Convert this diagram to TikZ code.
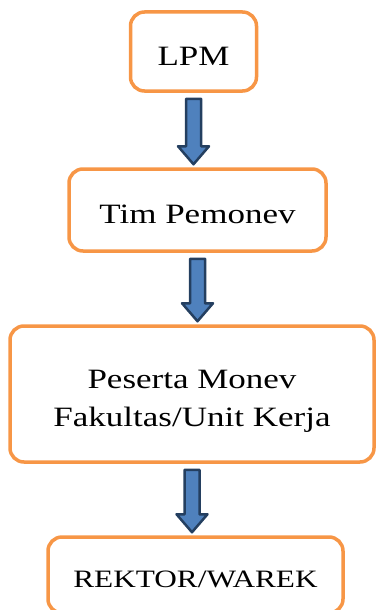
\documentclass[tikz,border=0pt]{standalone}
\usepackage{fontspec}
\setmainfont[FakeStretch=1.25]{Liberation Serif}
\usetikzlibrary{calc}
\definecolor{boxorange}{HTML}{F79646}
\definecolor{arrowfill}{HTML}{4F81BD}
\definecolor{arrowline}{HTML}{243F60}
\newcommand{\lowered}[2]{\raisebox{-#1}[\height][\depth]{#2}}
\tikzset{
  box/.style={draw=boxorange, line width=3.5pt, rounded corners=14pt, fill=white,
    align=center, inner sep=0pt, font=\fontsize{28}{38}\selectfont},
  blockarrow/.style={draw=arrowline, fill=arrowfill, line width=2.5pt, line join=round}
}
\newcommand{\blockarr}[2]{%
  \path let \p1=($(#1.south)+(0,6)$), \p2=($(#2.north)+(0,-3)$) in
    [blockarrow] (\x1-7.5pt,\y1) -- (\x1+7.5pt,\y1) -- (\x1+7.5pt,\y2+18pt)
    -- (\x1+15.5pt,\y2+18pt) -- (\x1,\y2) -- (\x1-15.5pt,\y2+18pt)
    -- (\x1-7.5pt,\y2+18pt) -- cycle;}
\begin{document}
\begin{tikzpicture}[x=1pt,y=-1pt]
\useasboundingbox (0,0) rectangle (377,610);
\node[box, minimum width=126pt, minimum height=79pt] (lpm) at (193.5,51.5) {\lowered{5pt}{LPM}};
\node[box, minimum width=257pt, minimum height=82pt] (tim) at (197.5,210) {\lowered{4pt}{Tim Pemonev}};
\node[box, minimum width=364pt, minimum height=136pt] (peserta) at (192,394) {\lowered{6pt}{\begin{tabular}{@{}c@{}}Peserta Monev\\Fakultas/Unit Kerja\end{tabular}}};
\node[box, minimum width=295pt, minimum height=76pt, font=\fontsize{25}{30}\selectfont] (rektor) at (195.5,575) {\lowered{4pt}{REKTOR/WAREK}};
\blockarr{lpm}{tim}
\blockarr{tim}{peserta}
\blockarr{peserta}{rektor}
\end{tikzpicture}
\end{document}
